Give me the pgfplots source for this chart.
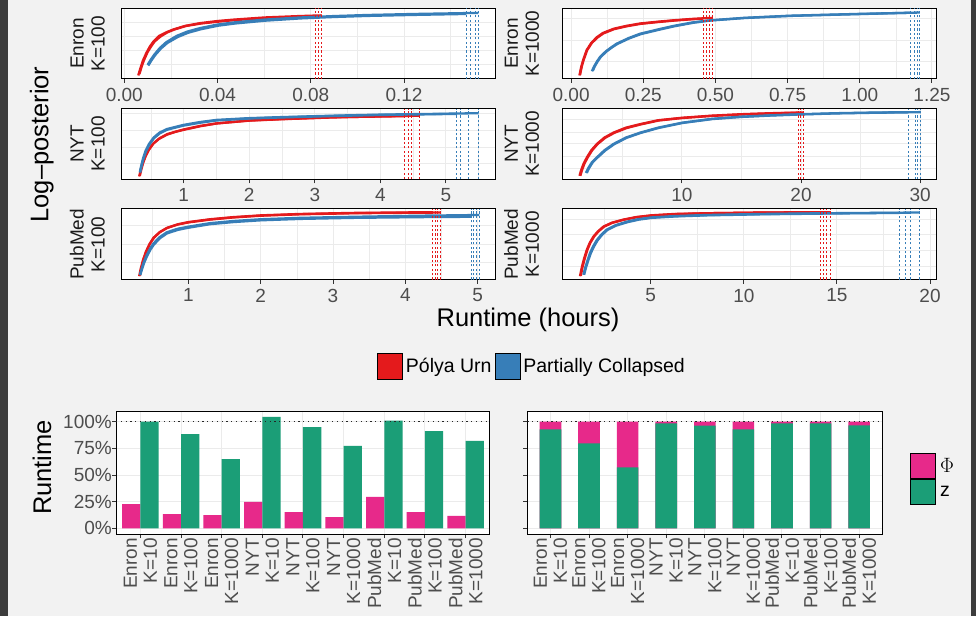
\documentclass[border=0pt]{standalone}
\usepackage{fontspec}
\setmainfont{Liberation Sans}
\usepackage{pgfplots}
\pgfplotsset{compat=1.18}
\definecolor{pu}{HTML}{E41A1C}
\definecolor{pc}{HTML}{377EB8}
\definecolor{phi}{HTML}{E7298A}
\definecolor{zc}{HTML}{1B9E77}
\definecolor{bg}{HTML}{F2F2F2}
\definecolor{gridc}{HTML}{EBEBEB}
\definecolor{tickc}{HTML}{4D4D4D}
\definecolor{tickline}{HTML}{333333}
\definecolor{stripc}{HTML}{1A1A1A}
\definecolor{edge}{HTML}{3C3C3C}
\newcommand\tickfont{\fontsize{19}{21}\selectfont}
\newcommand\barfont{\fontsize{19}{20}\selectfont}
\newcommand\stripfont{\fontsize{19}{21}\selectfont}
\newcommand\legfont{\fontsize{19.5}{22}\selectfont}
\newcommand\titlefont{\fontsize{25.5}{28}\selectfont}
\pgfplotsset{
  lp/.style={
    scale only axis, width=373.3pt, height=70.7pt, anchor=south west,
    ymin=0, ymax=1,
    axis background/.style={fill=white},
    axis line style={black, line width=1pt},
    grid=both,
    major grid style={draw=gridc, line width=1pt},
    minor grid style={draw=gridc, line width=0.5pt},
    tick align=outside, xtick pos=bottom, ytick pos=left,
    major tick length=4pt, minor tick length=0pt,
    xtick style={draw=tickline, line width=1pt},
    ytick style={draw=none},
    yticklabels={},
    xticklabel style={font=\tickfont, text=tickc, inner sep=0pt, yshift=-5pt},
    ylabel style={font=\stripfont, text=stripc, align=center, anchor=south, inner sep=0pt},
  },
  leftstrip/.style={ylabel style={at={(axis description cs:-0.045,0.5)}}},
  rightstrip/.style={ylabel style={at={(axis description cs:-0.063,0.5)}}},
  redrun/.style={pu, line width=2.3pt, line join=round, forget plot},
  bluerun/.style={pc, line width=2.3pt, line join=round, forget plot},
  reddot/.style={pu, line width=1pt, dash pattern=on 2.2pt off 2.2pt, forget plot},
  bluedot/.style={pc, line width=1pt, dash pattern=on 2.2pt off 2.2pt, forget plot},
  bp/.style={
    scale only axis, height=123pt, anchor=south west,
    xmin=0.4, xmax=9.6, ymin=-0.053, ymax=1.10,
    axis background/.style={fill=white},
    axis line style={black, line width=1pt},
    xmajorgrids, ymajorgrids,
    major grid style={draw=gridc, line width=1pt},
    tick align=outside, xtick pos=bottom, ytick pos=left, major tick length=4pt,
    tick style={draw=tickline, line width=1pt},
    xtick={1,2,3,4,5,6,7,8,9}, ytick={0,0.25,0.5,0.75,1},
    xticklabels={{Enron\\K=10},{Enron\\K=100},{Enron\\K=1000},{NYT\\K=10},{NYT\\K=100},{NYT\\K=1000},{PubMed\\K=10},{PubMed\\K=100},{PubMed\\K=1000}},
    xticklabel style={rotate=90, anchor=east, align=right, font=\barfont, text=tickc, inner sep=0pt},
    yticklabel style={font=\tickfont, text=tickc, inner sep=0pt},
  },
}
\begin{document}
\begin{tikzpicture}
\useasboundingbox (0pt,0pt) rectangle (976pt,616pt);
\fill[bg] (0pt,0pt) rectangle (976pt,616pt);
\fill[edge] (0pt,0pt) rectangle (8pt,616pt);
\fill[edge] (971pt,0pt) rectangle (976pt,616pt);

% ---------------- Enron K=100
\begin{axis}[lp, leftstrip, at={(121.7pt,537pt)}, xmin=-0.0011, xmax=0.159,
  xtick={0,0.04,0.08,0.12}, xticklabels={0.00,0.04,0.08,0.12}, minor xtick={0.02,0.06,0.10,0.14},
  ytick={0.21,0.40,0.60,0.80}, ylabel={Enron\\K=100}]
\addplot[redrun] coordinates {(0.006,0.05) (0.007,0.16) (0.008,0.26) (0.0095,0.37) (0.011,0.46) (0.0125,0.53) (0.015,0.61) (0.018,0.66) (0.021,0.70) (0.026,0.75) (0.0325,0.79) (0.04,0.82) (0.047,0.84) (0.06,0.87) (0.075,0.89) (0.0847,0.90)};
\addplot[redrun] coordinates {(0.0065,0.07) (0.0075,0.18) (0.0085,0.27) (0.01,0.38) (0.0115,0.46) (0.013,0.53) (0.0155,0.60) (0.0185,0.66) (0.0215,0.70) (0.0265,0.75) (0.033,0.785) (0.04,0.81) (0.048,0.835) (0.06,0.86) (0.0818,0.885)};
\addplot[bluerun] coordinates {(0.010,0.20) (0.0115,0.28) (0.013,0.35) (0.0153,0.44) (0.018,0.52) (0.0225,0.61) (0.027,0.67) (0.0325,0.72) (0.04,0.77) (0.047,0.80) (0.06,0.84) (0.0754,0.87) (0.09,0.89) (0.104,0.905) (0.125,0.92) (0.1519,0.935)};
\addplot[bluerun] coordinates {(0.0103,0.19) (0.0118,0.27) (0.0133,0.34) (0.0157,0.43) (0.0185,0.51) (0.023,0.595) (0.0275,0.655) (0.033,0.705) (0.0405,0.755) (0.0475,0.785) (0.0605,0.825) (0.0757,0.857) (0.09,0.877) (0.104,0.892) (0.125,0.907) (0.1467,0.92)};
\addplot[reddot] coordinates {(0.0818,0) (0.0818,1)};
\addplot[reddot] coordinates {(0.0833,0) (0.0833,1)};
\addplot[reddot] coordinates {(0.0847,0) (0.0847,1)};
\addplot[bluedot] coordinates {(0.1467,0) (0.1467,1)};
\addplot[bluedot] coordinates {(0.1484,0) (0.1484,1)};
\addplot[bluedot] coordinates {(0.1505,0) (0.1505,1)};
\addplot[bluedot] coordinates {(0.1519,0) (0.1519,1)};
\end{axis}

% ---------------- Enron K=1000
\begin{axis}[lp, rightstrip, at={(562.7pt,537pt)}, xmin=-0.029, xmax=1.264,
  xtick={0,0.25,0.5,0.75,1,1.25}, xticklabels={0.00,0.25,0.50,0.75,1.00,1.25}, minor xtick={0.125,0.375,0.625,0.875,1.125},
  ytick={0.245,0.55,0.86}, ylabel={Enron\\K=1000}]
\addplot[redrun] coordinates {(0.029,0.05) (0.035,0.17) (0.042,0.27) (0.054,0.41) (0.07,0.51) (0.089,0.59) (0.11,0.65) (0.147,0.71) (0.19,0.75) (0.239,0.785) (0.3,0.81) (0.354,0.83) (0.42,0.85) (0.491,0.865)};
\addplot[redrun] coordinates {(0.031,0.055) (0.037,0.175) (0.044,0.275) (0.056,0.41) (0.072,0.51) (0.091,0.585) (0.112,0.645) (0.149,0.705) (0.192,0.745) (0.241,0.78) (0.3,0.805) (0.354,0.825) (0.42,0.845) (0.458,0.855)};
\addplot[bluerun] coordinates {(0.072,0.11) (0.08,0.18) (0.09,0.25) (0.1,0.31) (0.12,0.39) (0.14,0.45) (0.158,0.50) (0.2,0.58) (0.239,0.64) (0.3,0.70) (0.354,0.75) (0.42,0.80) (0.481,0.83) (0.6,0.865) (0.758,0.895) (0.989,0.92) (1.208,0.94)};
\addplot[bluerun] coordinates {(0.075,0.115) (0.083,0.185) (0.093,0.255) (0.103,0.312) (0.123,0.39) (0.143,0.45) (0.161,0.497) (0.203,0.577) (0.242,0.635) (0.303,0.695) (0.357,0.745) (0.423,0.795) (0.484,0.827) (0.6,0.862) (0.758,0.892) (0.989,0.917) (1.176,0.937)};
\addplot[reddot] coordinates {(0.458,0) (0.458,1)};
\addplot[reddot] coordinates {(0.470,0) (0.470,1)};
\addplot[reddot] coordinates {(0.481,0) (0.481,1)};
\addplot[reddot] coordinates {(0.491,0) (0.491,1)};
\addplot[bluedot] coordinates {(1.176,0) (1.176,1)};
\addplot[bluedot] coordinates {(1.188,0) (1.188,1)};
\addplot[bluedot] coordinates {(1.200,0) (1.200,1)};
\addplot[bluedot] coordinates {(1.208,0) (1.208,1)};
\end{axis}

% ---------------- NYT K=100
\begin{axis}[lp, leftstrip, at={(121.7pt,436.7pt)}, xmin=0.053, xmax=5.75,
  xtick={1,2,3,4,5}, xticklabels={1,2,3,4,5}, minor xtick={0.5,1.5,2.5,3.5,4.5,5.5},
  ytick={0.22,0.455,0.69,0.925}, ylabel={NYT\\K=100}]
\addplot[redrun] coordinates {(0.32,0.04) (0.34,0.12) (0.37,0.22) (0.41,0.32) (0.46,0.41) (0.53,0.50) (0.62,0.57) (0.74,0.63) (0.87,0.67) (1.0,0.70) (1.25,0.75) (1.5,0.79) (2.0,0.83) (2.5,0.85) (3.28,0.875) (4.0,0.89) (4.597,0.90)};
\addplot[redrun] coordinates {(0.33,0.05) (0.35,0.13) (0.38,0.23) (0.42,0.33) (0.47,0.42) (0.54,0.51) (0.63,0.58) (0.75,0.64) (0.88,0.675) (1.0,0.705) (1.25,0.755) (1.5,0.79) (2.0,0.832) (2.5,0.852) (3.28,0.878) (4.368,0.893)};
\addplot[bluerun] coordinates {(0.33,0.10) (0.35,0.19) (0.38,0.30) (0.42,0.41) (0.47,0.50) (0.54,0.59) (0.63,0.66) (0.74,0.71) (0.87,0.74) (1.0,0.77) (1.25,0.81) (1.5,0.84) (2.0,0.865) (2.5,0.88) (3.28,0.90) (4.0,0.915) (4.8,0.925) (5.498,0.935)};
\addplot[bluerun] coordinates {(0.335,0.095) (0.355,0.185) (0.385,0.29) (0.425,0.40) (0.475,0.49) (0.545,0.58) (0.635,0.65) (0.745,0.70) (0.875,0.732) (1.0,0.76) (1.25,0.80) (1.5,0.832) (2.0,0.86) (2.5,0.875) (3.28,0.895) (4.0,0.91) (5.168,0.925)};
\addplot[reddot] coordinates {(4.368,0) (4.368,1)};
\addplot[reddot] coordinates {(4.429,0) (4.429,1)};
\addplot[reddot] coordinates {(4.481,0) (4.481,1)};
\addplot[reddot] coordinates {(4.597,0) (4.597,1)};
\addplot[bluedot] coordinates {(5.168,0) (5.168,1)};
\addplot[bluedot] coordinates {(5.218,0) (5.218,1)};
\addplot[bluedot] coordinates {(5.345,0) (5.345,1)};
\addplot[bluedot] coordinates {(5.498,0) (5.498,1)};
\end{axis}

% ---------------- NYT K=1000
\begin{axis}[lp, rightstrip, at={(562.7pt,436.7pt)}, xmin=0, xmax=31.33,
  xtick={10,20,30}, xticklabels={10,20,30}, minor xtick={5,15,25},
  ytick={0.156,0.32,0.50,0.66,0.84}, ylabel={NYT\\K=1000}]
\addplot[redrun] coordinates {(1.41,0.05) (1.55,0.13) (1.75,0.22) (2.03,0.31) (2.4,0.41) (2.87,0.50) (3.5,0.59) (4.26,0.66) (5.3,0.73) (6.5,0.78) (8,0.835) (10,0.87) (12.5,0.90) (14.9,0.92) (17.5,0.935) (20.21,0.945)};
\addplot[redrun] coordinates {(1.48,0.05) (1.62,0.13) (1.82,0.22) (2.1,0.31) (2.47,0.41) (2.94,0.50) (3.57,0.587) (4.33,0.657) (5.37,0.725) (6.57,0.777) (8.07,0.832) (10.07,0.867) (12.57,0.897) (15,0.917) (17.5,0.932) (19.78,0.942)};
\addplot[bluerun] coordinates {(1.95,0.09) (2.15,0.16) (2.45,0.24) (2.87,0.31) (3.5,0.41) (4.26,0.50) (5.3,0.59) (6.5,0.66) (8,0.73) (10,0.80) (12.5,0.855) (14.9,0.885) (17.5,0.905) (19.9,0.92) (23,0.935) (26.5,0.945) (30.05,0.95)};
\addplot[bluerun] coordinates {(2.02,0.09) (2.22,0.16) (2.52,0.24) (2.94,0.31) (3.57,0.407) (4.33,0.497) (5.37,0.587) (6.57,0.657) (8.07,0.727) (10.07,0.797) (12.57,0.852) (15,0.882) (17.5,0.902) (20,0.917) (23,0.932) (26.5,0.942) (29.0,0.947)};
\addplot[reddot] coordinates {(19.78,0) (19.78,1)};
\addplot[reddot] coordinates {(19.99,0) (19.99,1)};
\addplot[reddot] coordinates {(20.21,0) (20.21,1)};
\addplot[bluedot] coordinates {(29.0,0) (29.0,1)};
\addplot[bluedot] coordinates {(29.57,0) (29.57,1)};
\addplot[bluedot] coordinates {(29.8,0) (29.8,1)};
\addplot[bluedot] coordinates {(30.05,0) (30.05,1)};
\end{axis}

% ---------------- PubMed K=100
\begin{axis}[lp, leftstrip, at={(121.7pt,336.3pt)}, xmin=0.078, xmax=5.24,
  xtick={1,2,3,4,5}, xticklabels={1,2,3,4,5}, minor xtick={0.5,1.5,2.5,3.5,4.5},
  ytick={0.25,0.50,0.76}, ylabel={PubMed\\K=100},
  legend style={at={(axis description cs:1.0965,-1.225)}, anchor=center, draw=none, fill=none,
    legend columns=2, font=\legfont, text=black, column sep=3pt, nodes={inner sep=0pt}},
  legend image code/.code={\draw[#1] (0pt,-13pt) rectangle (25pt,13pt);}]
\addlegendimage{fill=pu, draw=black, line width=0.8pt}
\addlegendentry{Pólya Urn}
\addlegendimage{fill=pc, draw=black, line width=0.8pt}
\addlegendentry{Partially Collapsed}
\addplot[redrun] coordinates {(0.32,0.05) (0.34,0.15) (0.37,0.27) (0.41,0.39) (0.46,0.50) (0.515,0.59) (0.6,0.67) (0.7,0.73) (0.85,0.78) (1.0,0.81) (1.3,0.85) (1.62,0.88) (2.0,0.905) (2.55,0.925) (3.3,0.94) (4.483,0.95)};
\addplot[redrun] coordinates {(0.33,0.06) (0.35,0.16) (0.38,0.28) (0.42,0.40) (0.47,0.51) (0.525,0.595) (0.61,0.675) (0.71,0.735) (0.86,0.785) (1.0,0.815) (1.3,0.855) (1.62,0.885) (2.0,0.91) (2.55,0.93) (3.3,0.945) (4.377,0.955)};
\addplot[bluerun] coordinates {(0.33,0.07) (0.35,0.14) (0.38,0.24) (0.42,0.34) (0.47,0.44) (0.515,0.51) (0.6,0.60) (0.7,0.67) (0.85,0.72) (1.0,0.75) (1.3,0.80) (1.62,0.83) (2.0,0.855) (2.55,0.875) (3.3,0.89) (4.2,0.905) (5.023,0.915)};
\addplot[bluerun] coordinates {(0.335,0.065) (0.355,0.135) (0.385,0.23) (0.425,0.325) (0.475,0.425) (0.522,0.495) (0.605,0.585) (0.705,0.655) (0.855,0.705) (1.0,0.735) (1.3,0.785) (1.62,0.815) (2.0,0.84) (2.55,0.86) (3.3,0.875) (4.2,0.885) (4.908,0.89)};
\addplot[reddot] coordinates {(4.377,0) (4.377,1)};
\addplot[reddot] coordinates {(4.414,0) (4.414,1)};
\addplot[reddot] coordinates {(4.446,0) (4.446,1)};
\addplot[reddot] coordinates {(4.483,0) (4.483,1)};
\addplot[bluedot] coordinates {(4.908,0) (4.908,1)};
\addplot[bluedot] coordinates {(4.944,0) (4.944,1)};
\addplot[bluedot] coordinates {(4.981,0) (4.981,1)};
\addplot[bluedot] coordinates {(5.023,0) (5.023,1)};
\end{axis}

% ---------------- PubMed K=1000
\begin{axis}[lp, rightstrip, at={(562.7pt,336.3pt)}, xmin=0.27, xmax=20.32,
  xtick={5,10,15,20}, xticklabels={5,10,15,20}, minor xtick={2.5,7.5,12.5,17.5},
  ytick={0.19,0.42,0.646,0.855}, ylabel={PubMed\\K=1000}]
\addplot[redrun] coordinates {(1.2,0.05) (1.3,0.18) (1.42,0.30) (1.56,0.42) (1.72,0.52) (1.92,0.61) (2.15,0.68) (2.45,0.75) (2.9,0.805) (3.53,0.85) (4.2,0.885) (5,0.91) (6.3,0.93) (8,0.94) (11,0.95) (14.63,0.955)};
\addplot[redrun] coordinates {(1.24,0.055) (1.34,0.185) (1.46,0.305) (1.6,0.425) (1.76,0.525) (1.96,0.612) (2.19,0.682) (2.49,0.75) (2.94,0.805) (3.58,0.85) (4.27,0.885) (5.07,0.907) (6.3,0.927) (8,0.94) (11,0.95) (14.09,0.955)};
\addplot[bluerun] coordinates {(1.38,0.07) (1.48,0.17) (1.6,0.27) (1.74,0.38) (1.9,0.47) (2.1,0.56) (2.35,0.64) (2.64,0.71) (3.1,0.77) (3.71,0.82) (4.3,0.855) (5,0.88) (6.3,0.90) (8,0.915) (11,0.93) (14.3,0.94) (19.43,0.95)};
\addplot[bluerun] coordinates {(1.42,0.07) (1.52,0.17) (1.64,0.27) (1.78,0.375) (1.94,0.465) (2.14,0.555) (2.39,0.635) (2.68,0.705) (3.14,0.765) (3.77,0.815) (4.37,0.85) (5.07,0.875) (6.37,0.895) (8,0.91) (11,0.925) (14.3,0.935) (18.35,0.945)};
\addplot[reddot] coordinates {(14.09,0) (14.09,1)};
\addplot[reddot] coordinates {(14.27,0) (14.27,1)};
\addplot[reddot] coordinates {(14.45,0) (14.45,1)};
\addplot[reddot] coordinates {(14.63,0) (14.63,1)};
\addplot[bluedot] coordinates {(18.35,0) (18.35,1)};
\addplot[bluedot] coordinates {(18.66,0) (18.66,1)};
\addplot[bluedot] coordinates {(18.96,0) (18.96,1)};
\addplot[bluedot] coordinates {(19.43,0) (19.43,1)};
\end{axis}

% ---------------- Bars: grouped
\begin{axis}[bp, at={(116pt,82pt)}, width=374pt,
  yticklabels={0\%,25\%,50\%,75\%,100\%}]
\addplot[ybar, bar width=0.45, bar shift=-0.225, fill=phi, draw=none, forget plot] coordinates {(1,0.228) (2,0.134) (3,0.125) (4,0.247) (5,0.153) (6,0.106) (7,0.294) (8,0.153) (9,0.116)};
\addplot[ybar, bar width=0.45, bar shift=0.225, fill=zc, draw=none, forget plot] coordinates {(1,1.0) (2,0.884) (3,0.65) (4,1.044) (5,0.95) (6,0.772) (7,1.009) (8,0.912) (9,0.82)};
\addplot[sharp plot, black!85, line width=1pt, dash pattern=on 1.2pt off 3.6pt, forget plot] coordinates {(0.4,1) (9.6,1)};
\end{axis}

% ---------------- Bars: shares (Phi on top of z, total 100%)
\begin{axis}[bp, at={(527.3pt,82pt)}, width=355pt, yticklabels={},
  legend style={at={(axis description cs:1.0696,0.675)}, anchor=north west, draw=none, fill=none,
    legend columns=1, font=\legfont, text=black, column sep=4pt, row sep=0pt, nodes={inner sep=0pt}},
  legend cell align=left,
  legend image code/.code={\draw[#1] (0pt,-12.5pt) rectangle (25pt,12.5pt);}]
\addlegendimage{fill=phi, draw=black, line width=0.8pt}
\addlegendentry{$\Phi$}
\addlegendimage{fill=zc, draw=black, line width=0.8pt}
\addlegendentry{z}
\addplot[ybar, bar width=0.56, bar shift=0, fill=phi, draw=none, forget plot] coordinates {(1,1) (2,1) (3,1) (4,1) (5,1) (6,1) (7,1) (8,1) (9,1)};
\addplot[ybar, bar width=0.56, bar shift=0, fill=zc, draw=none, forget plot] coordinates {(1,0.928) (2,0.797) (3,0.572) (4,0.984) (5,0.962) (6,0.928) (7,0.984) (8,0.984) (9,0.965)};
\addplot[sharp plot, black!85, line width=1pt, dash pattern=on 1.2pt off 3.6pt, forget plot] coordinates {(0.4,1) (9.6,1)};
\end{axis}

% ---------------- titles
\node[font=\titlefont, rotate=90] at (41.7pt,471.5pt) {Log--posterior};
\node[font=\titlefont] at (528pt,296pt) {Runtime (hours)};
\node[font=\titlefont, rotate=90] at (42pt,148.5pt) {Runtime};
\end{tikzpicture}
\end{document}
